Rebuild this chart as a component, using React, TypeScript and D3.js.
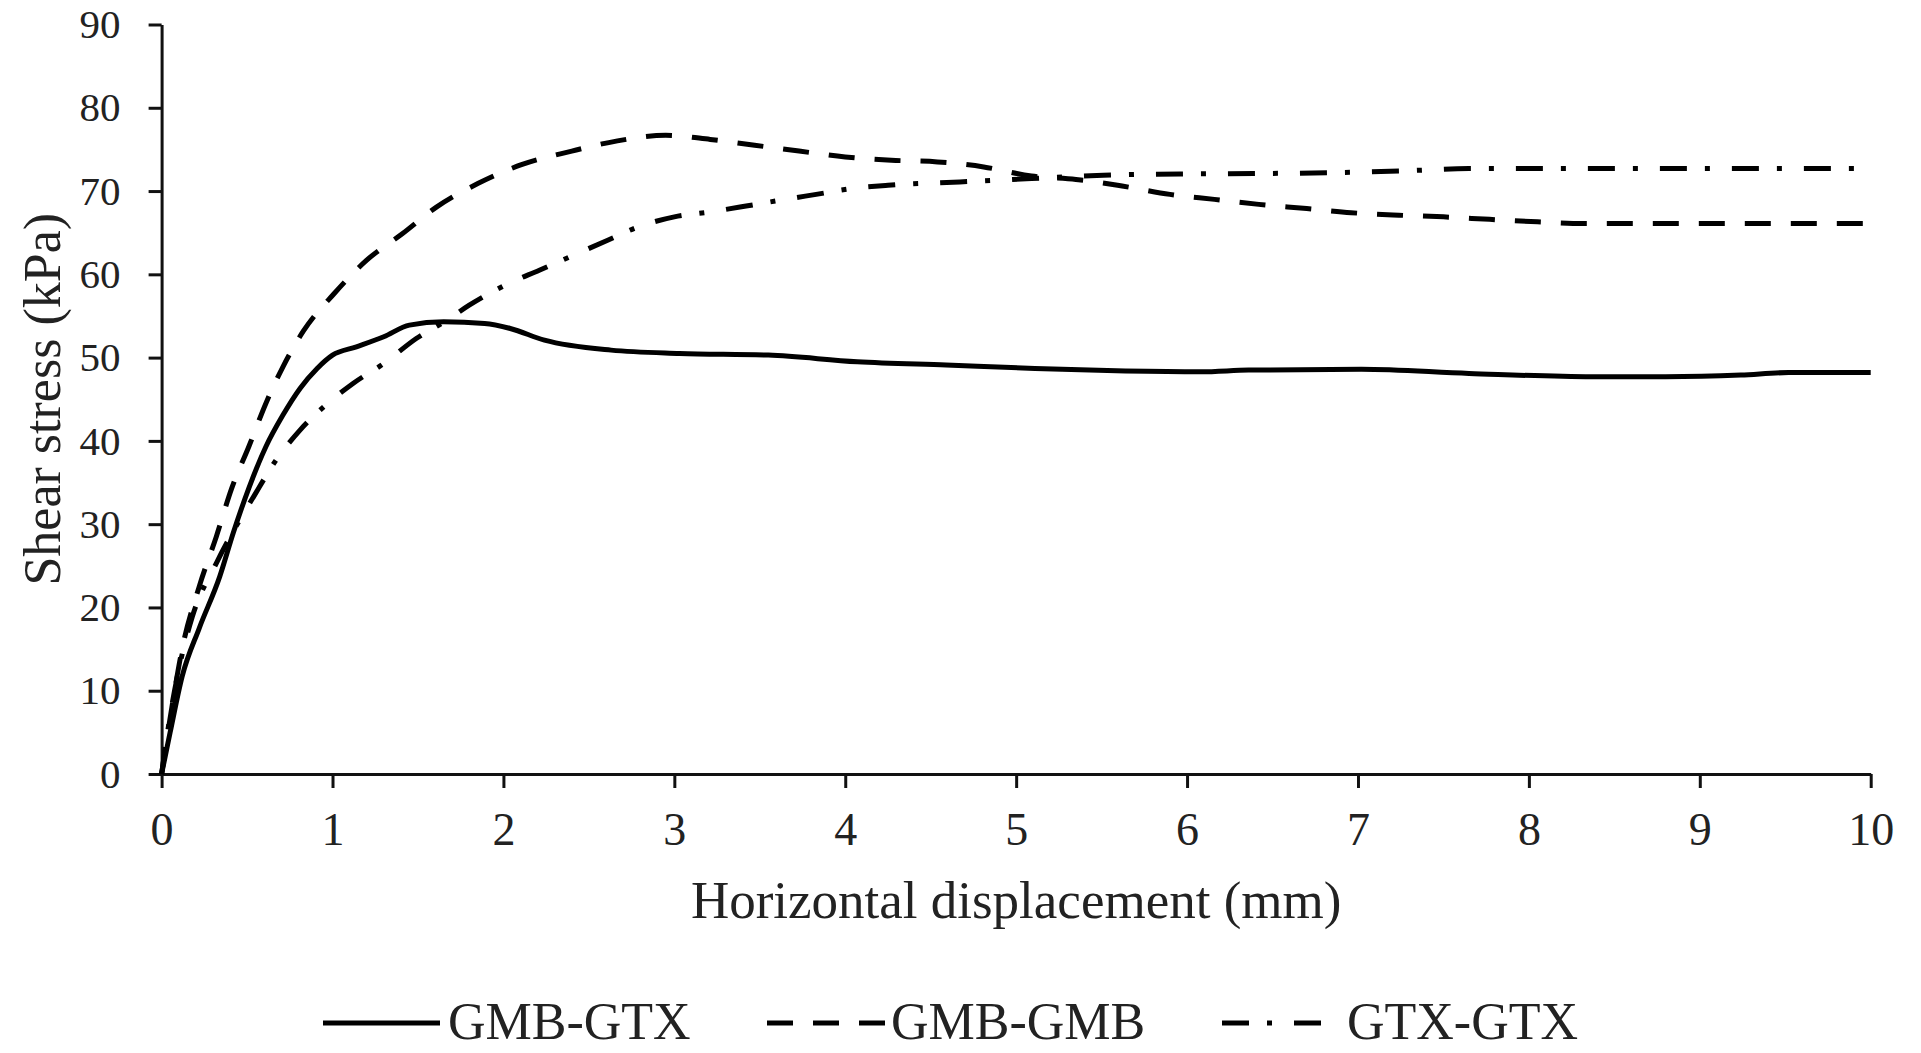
import React, { useEffect, useRef } from 'react'
import * as d3 from 'd3'

// horizontal displacement (mm) / shear stress (kPa)
const gmbGtxX = [0, 0.05, 0.12, 0.22, 0.34, 0.42, 0.51, 0.61, 0.71, 0.81, 0.91, 1.0, 1.14, 1.3, 1.45, 1.65, 1.89, 2.04, 2.24, 2.63, 3.03, 3.55, 4.07, 4.59, 5.11, 5.64, 6.08, 6.36, 7.02, 7.65, 8.37, 8.8, 9.24, 9.52, 10]
const gmbGtxY = [0, 5, 11.7, 17.5, 23.7, 29, 34.3, 39.3, 43.1, 46.3, 48.7, 50.3, 51.3, 52.5, 53.9, 54.3, 54.1, 53.5, 52.1, 50.9, 50.5, 50.3, 49.5, 49.1, 48.7, 48.4, 48.3, 48.5, 48.6, 48.1, 47.7, 47.7, 47.9, 48.2, 48.2]

const gmbGmbX = [0, 0.06, 0.12, 0.22, 0.32, 0.41, 0.51, 0.61, 0.71, 0.83, 1.01, 1.2, 1.41, 1.61, 1.85, 2.11, 2.4, 2.66, 2.95, 3.21, 3.47, 3.73, 4.0, 4.27, 4.54, 4.81, 5.09, 5.35, 5.62, 5.9, 6.16, 6.42, 6.7, 6.96, 7.24, 7.5, 7.77, 8.05, 8.32, 10]
const gmbGmbY = [0, 8, 15, 22.5, 28.5, 34.3, 39.3, 44.5, 48.9, 53.2, 57.7, 61.7, 64.9, 68.1, 70.9, 73.2, 74.8, 76.0, 76.7, 76.2, 75.5, 74.8, 74.1, 73.7, 73.5, 72.9, 71.8, 71.4, 70.6, 69.6, 69.0, 68.4, 67.9, 67.4, 67.1, 66.9, 66.6, 66.3, 66.1, 66.1]

const gtxGtxX = [0, 0.05, 0.1, 0.18, 0.32, 0.55, 0.67, 0.81, 0.96, 1.12, 1.3, 1.49, 1.67, 1.8, 2.01, 2.21, 2.4, 2.61, 2.79, 3.0, 3.21, 3.42, 3.62, 3.83, 4.04, 4.25, 4.67, 5.09, 5.51, 5.96, 6.39, 6.82, 7.24, 7.65, 10]
const gtxGtxY = [0, 7, 12.5, 18.9, 25.3, 33.7, 37.7, 41.3, 44.3, 46.9, 49.3, 52.3, 54.5, 56.3, 58.7, 60.5, 62.2, 64.1, 65.7, 66.9, 67.5, 68.2, 68.9, 69.6, 70.3, 70.7, 71.1, 71.5, 71.9, 72.05, 72.1, 72.2, 72.4, 72.7, 72.7]

const seriesNames = ['GMB-GTX', 'GMB-GMB', 'GTX-GTX']
const xTicks = [0, 1, 2, 3, 4, 5, 6, 7, 8, 9, 10]
const yTicks = [0, 10, 20, 30, 40, 50, 60, 70, 80, 90]

const FONT = '"Liberation Serif", "Times New Roman", serif'

export default function App() {
  const ref = useRef<SVGSVGElement | null>(null)

  useEffect(() => {
    const width = 1921
    const height = 1053
    const svg = d3.select(ref.current!)
    svg.selectAll('*').remove()
    svg.attr('width', width).attr('height', height)

    const x = d3.scaleLinear().domain([0, 10]).range([161.6, 1870.7])
    const y = d3.scaleLinear().domain([0, 90]).range([774, 24.5])

    const series = [
      { name: seriesNames[0], xs: gmbGtxX, ys: gmbGtxY, dash: null as string | null },
      { name: seriesNames[1], xs: gmbGmbX, ys: gmbGmbY, dash: '26,20' },
      { name: seriesNames[2], xs: gtxGtxX, ys: gtxGtxY, dash: '27,18,5,22' },
    ]

    // axes
    const yAxis = svg.append('g').attr('transform', `translate(${x(0)},0)`)
      .call(d3.axisLeft(y).tickValues(yTicks).tickSize(13).tickSizeOuter(0).tickPadding(28))
    const xAxis = svg.append('g').attr('transform', `translate(0,${y(0)})`)
      .call(d3.axisBottom(x).tickValues(xTicks).tickSize(14).tickSizeOuter(0).tickPadding(24))
    for (const ax of [yAxis, xAxis]) {
      ax.select('.domain').attr('stroke', '#111').attr('stroke-width', 3)
      ax.selectAll('.tick line').attr('stroke', '#111').attr('stroke-width', 3)
      ax.selectAll('.tick text').attr('fill', '#222').attr('font-family', FONT)
    }
    yAxis.selectAll('.tick text').attr('font-size', 41)
    xAxis.selectAll('.tick text').attr('font-size', 46)

    const line = d3.line<[number, number]>()
      .x(d => x(d[0]))
      .y(d => y(d[1]))
      .curve(d3.curveMonotoneX)

    series.forEach(s => {
      const pts = s.xs.map((v, i) => [v, s.ys[i]] as [number, number])
      const p = svg.append('path')
        .attr('d', line(pts))
        .attr('fill', 'none')
        .attr('stroke', '#000')
        .attr('stroke-width', 5)
      if (s.dash) p.attr('stroke-dasharray', s.dash)
    })

    // axis titles
    svg.append('text')
      .attr('x', (x(0) + x(10)) / 2).attr('y', 918)
      .attr('text-anchor', 'middle')
      .attr('font-family', FONT).attr('font-size', 53).attr('fill', '#222')
      .text('Horizontal displacement (mm)')
    svg.append('text')
      .attr('transform', `translate(60,${(y(0) + y(90)) / 2}) rotate(-90)`)
      .attr('text-anchor', 'middle')
      .attr('font-family', FONT).attr('font-size', 52).attr('fill', '#222')
      .text('Shear stress (kPa)')

    // legend
    const legendItems = [
      { x1: 323, x2: 440, tx: 448 },
      { x1: 767, x2: 887, tx: 891 },
      { x1: 1222, x2: 1322, tx: 1347 },
    ]
    const lg = svg.append('g')
    series.forEach((s, i) => {
      const it = legendItems[i]
      const l = lg.append('line')
        .attr('x1', it.x1).attr('x2', it.x2).attr('y1', 1023).attr('y2', 1023)
        .attr('stroke', '#000').attr('stroke-width', 5)
      if (s.dash) l.attr('stroke-dasharray', s.dash)
      lg.append('text')
        .attr('x', it.tx).attr('y', 1039)
        .attr('font-family', FONT).attr('font-size', 52).attr('fill', '#222')
        .text(s.name)
    })
  }, [])

  return <svg ref={ref} style={{ position: 'absolute', left: 0, top: 0, background: '#fff' }} />
}
